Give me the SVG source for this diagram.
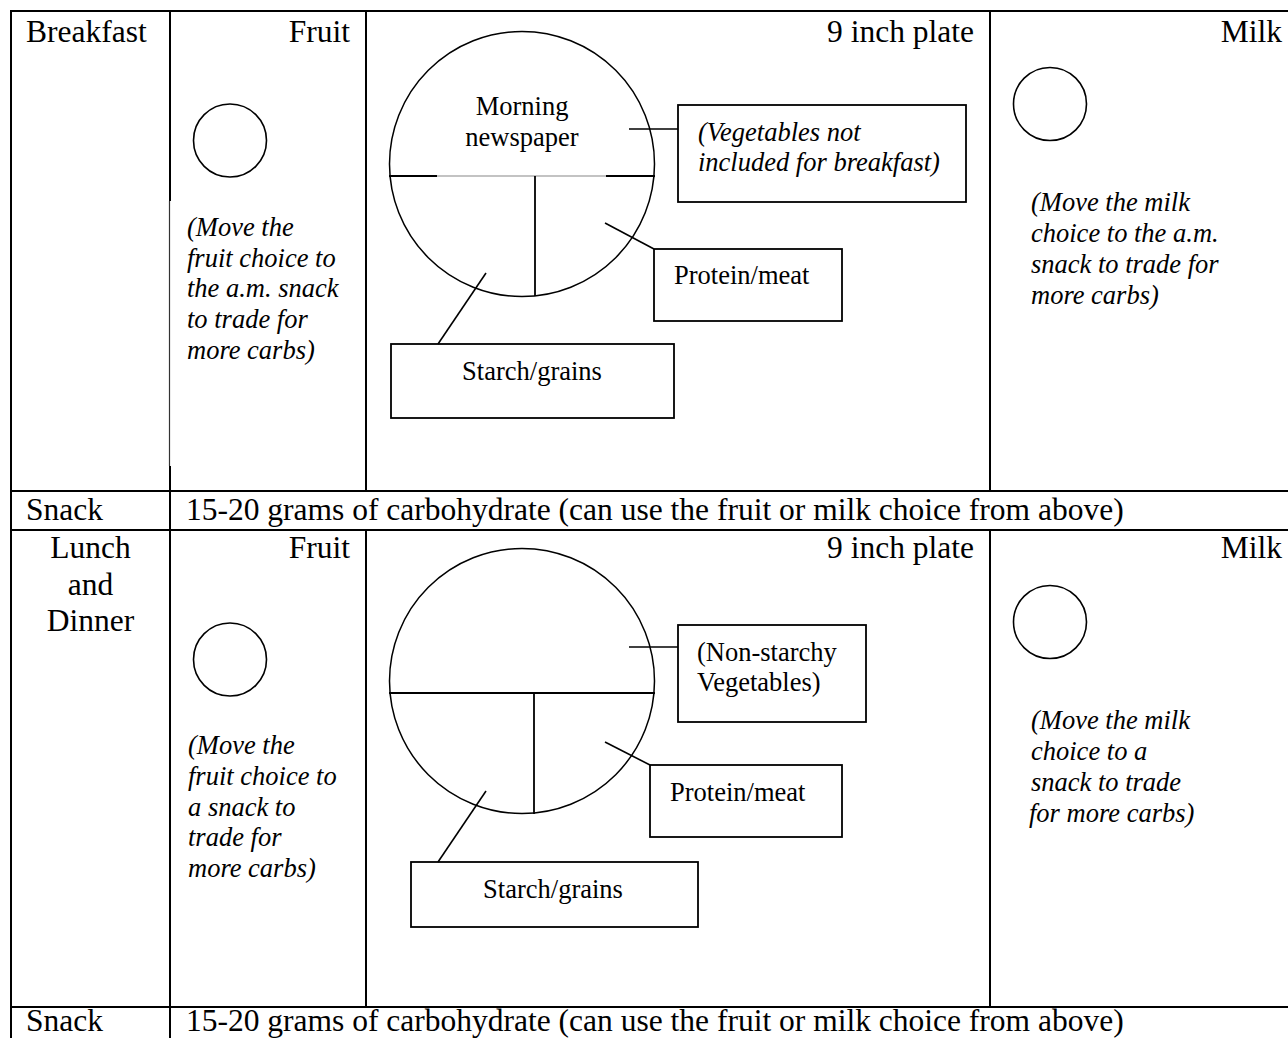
<svg xmlns="http://www.w3.org/2000/svg" width="1288" height="1038" viewBox="0 0 1288 1038">
<style>
.grid{stroke:#000;stroke-width:2;fill:none}
.thin{stroke:#333;stroke-width:1.2;fill:none}
.hd{font-family:"Liberation Serif","Times New Roman",serif;font-size:31.5px;fill:#000}
.lb{font-family:"Liberation Serif","Times New Roman",serif;font-size:26.5px;fill:#000}
.it{font-family:"Liberation Serif","Times New Roman",serif;font-size:26.5px;font-style:italic;fill:#000}
.cup{fill:none;stroke:#000;stroke-width:1.6}
.plate{fill:none;stroke:#000;stroke-width:1.5}
.pl{stroke:#000;stroke-width:1.8;fill:none}
.box{fill:#fff;stroke:#000;stroke-width:1.8}
.con{stroke:#000;stroke-width:1.6;fill:none}
</style>
<rect width="1288" height="1038" fill="#fff"/>
<g id="table">
<line class="grid" x1="10" y1="11" x2="1300" y2="11"/>
<line class="grid" x1="11" y1="10" x2="11" y2="1038"/>
<line class="grid" x1="10" y1="491" x2="1300" y2="491"/>
<line class="grid" x1="10" y1="530" x2="1300" y2="530"/>
<line class="grid" x1="10" y1="1007" x2="1300" y2="1007"/>
<line class="grid" x1="170" y1="10" x2="170" y2="201"/>
<line class="thin" x1="169.5" y1="201" x2="169.5" y2="466"/>
<line class="grid" x1="170" y1="466" x2="170" y2="1038"/>
<line class="grid" x1="366" y1="10" x2="366" y2="491"/>
<line class="grid" x1="366" y1="530" x2="366" y2="1007"/>
<line class="grid" x1="990" y1="10" x2="990" y2="491"/>
<line class="grid" x1="990" y1="530" x2="990" y2="1007"/>
</g>
<g id="headers">
<text class="hd" x="26" y="42">Breakfast</text>
<text class="hd" x="350" y="42" text-anchor="end">Fruit</text>
<text class="hd" x="974" y="42" text-anchor="end">9 inch plate</text>
<text class="hd" x="1282" y="42" text-anchor="end">Milk</text>
<text class="hd" x="26" y="520">Snack</text>
<text class="hd" x="186" y="520">15-20 grams of carbohydrate (can use the fruit or milk choice from above)</text>
<text class="hd" x="90.5" y="558" text-anchor="middle">Lunch</text>
<text class="hd" x="90.5" y="595" text-anchor="middle">and</text>
<text class="hd" x="90.5" y="631" text-anchor="middle">Dinner</text>
<text class="hd" x="350" y="558" text-anchor="end">Fruit</text>
<text class="hd" x="974" y="558" text-anchor="end">9 inch plate</text>
<text class="hd" x="1282" y="558" text-anchor="end">Milk</text>
<text class="hd" x="26" y="1031">Snack</text>
<text class="hd" x="186" y="1031">15-20 grams of carbohydrate (can use the fruit or milk choice from above)</text>
</g>
<g id="breakfast-fruit">
<circle class="cup" cx="230" cy="140.5" r="36.5"/>
<text class="it" x="187"><tspan x="187" y="236">(Move the</tspan><tspan x="187" y="267">fruit choice to</tspan><tspan x="187" y="297">the a.m. snack</tspan><tspan x="187" y="328">to trade for</tspan><tspan x="187" y="359">more carbs)</tspan></text>
</g>
<g id="breakfast-milk">
<circle class="cup" cx="1050" cy="104" r="36.5"/>
<text class="it" x="1031"><tspan x="1031" y="211">(Move the milk</tspan><tspan x="1031" y="242">choice to the a.m.</tspan><tspan x="1031" y="273">snack to trade for</tspan><tspan x="1031" y="304">more carbs)</tspan></text>
</g>
<g id="breakfast-plate">
<circle class="plate" cx="522" cy="164" r="132.5"/>
<line class="pl" x1="389" y1="176" x2="437" y2="176"/>
<line class="thin" x1="437" y1="176" x2="606" y2="176" style="stroke:#888"/>
<line class="pl" x1="606" y1="176" x2="655" y2="176"/>
<line class="pl" x1="535" y1="176" x2="535" y2="296"/>
<text class="lb" x="522" y="115" text-anchor="middle">Morning</text>
<text class="lb" x="522" y="146" text-anchor="middle">newspaper</text>
</g>
<g id="breakfast-veg-box">
<rect class="box" x="678" y="105" width="288" height="97"/>
<text class="it" x="698"><tspan x="698" y="141">(Vegetables not</tspan><tspan x="698" y="171">included for breakfast)</tspan></text>
</g>
<g id="breakfast-protein-box">
<rect class="box" x="654" y="249" width="188" height="72"/>
<text class="lb" x="674" y="284">Protein/meat</text>
</g>
<g id="breakfast-starch-box">
<rect class="box" x="391" y="344" width="283" height="74"/>
<text class="lb" x="532" y="380" text-anchor="middle">Starch/grains</text>
</g>
<g id="lunch-fruit">
<circle class="cup" cx="230" cy="659.5" r="36.5"/>
<text class="it" x="188"><tspan x="188" y="754">(Move the</tspan><tspan x="188" y="785">fruit choice to</tspan><tspan x="188" y="816">a snack to</tspan><tspan x="188" y="846">trade for</tspan><tspan x="188" y="877">more carbs)</tspan></text>
</g>
<g id="lunch-milk">
<circle class="cup" cx="1050" cy="622" r="36.5"/>
<text class="it" x="1031"><tspan x="1031" y="729">(Move the milk</tspan><tspan x="1031" y="760">choice to a</tspan><tspan x="1031" y="791">snack to trade</tspan><tspan x="1029" y="822">for more carbs)</tspan></text>
</g>
<g id="lunch-plate">
<circle class="plate" cx="522" cy="681" r="132.5"/>
<line class="pl" x1="389" y1="693" x2="655" y2="693"/>
<line class="pl" x1="534" y1="693" x2="534" y2="814"/>
</g>
<g id="lunch-veg-box">
<rect class="box" x="678" y="625" width="188" height="97"/>
<text class="lb" x="697"><tspan x="697" y="661">(Non-starchy</tspan><tspan x="697" y="691">Vegetables)</tspan></text>
</g>
<g id="lunch-protein-box">
<rect class="box" x="650" y="765" width="192" height="72"/>
<text class="lb" x="670" y="801">Protein/meat</text>
</g>
<g id="lunch-starch-box">
<rect class="box" x="411" y="862" width="287" height="65"/>
<text class="lb" x="553" y="898" text-anchor="middle">Starch/grains</text>
</g>
<g id="connectors">
<line class="con" x1="629" y1="129" x2="678" y2="129"/>
<line class="con" x1="605" y1="223" x2="654" y2="249"/>
<line class="con" x1="486" y1="273" x2="438" y2="344"/>
<line class="con" x1="629" y1="647" x2="678" y2="647"/>
<line class="con" x1="605" y1="742" x2="650" y2="765"/>
<line class="con" x1="486" y1="791" x2="438" y2="862"/>
</g>
</svg>
